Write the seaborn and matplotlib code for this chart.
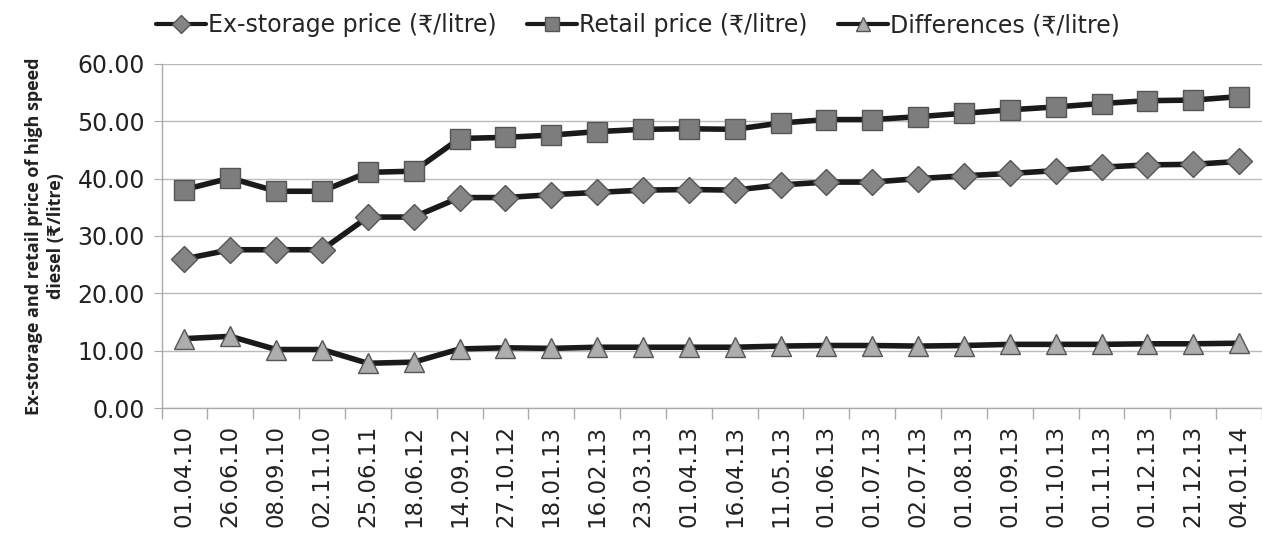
import numpy as np
import pandas as pd
import matplotlib
matplotlib.use("Agg")
import matplotlib.pyplot as plt
import seaborn as sns

dates = ['01.04.10', '26.06.10', '08.09.10', '02.11.10', '25.06.11', '18.06.12',
         '14.09.12', '27.10.12', '18.01.13', '16.02.13', '23.03.13', '01.04.13',
         '16.04.13', '11.05.13', '01.06.13', '01.07.13', '02.07.13', '01.08.13',
         '01.09.13', '01.10.13', '01.11.13', '01.12.13', '21.12.13', '04.01.14']
ex_storage = [26.0, 27.6, 27.6, 27.6, 33.3, 33.3, 36.7, 36.7, 37.2, 37.6, 38.0, 38.1,
              38.0, 38.9, 39.4, 39.4, 40.0, 40.5, 40.9, 41.4, 42.0, 42.4, 42.5, 43.0]
retail = [38.1, 40.1, 37.8, 37.8, 41.1, 41.3, 47.0, 47.2, 47.6, 48.2, 48.6, 48.7,
          48.6, 49.7, 50.3, 50.3, 50.8, 51.4, 52.0, 52.5, 53.1, 53.6, 53.7, 54.3]
differences = [12.1, 12.5, 10.2, 10.2, 7.8, 8.0, 10.3, 10.5, 10.4, 10.6, 10.6, 10.6,
               10.6, 10.8, 10.9, 10.9, 10.8, 10.9, 11.1, 11.1, 11.1, 11.2, 11.2, 11.3]
series_names = ['Ex-storage price (₹/litre)', 'Retail price (₹/litre)', 'Differences (₹/litre)']

sns.set_style("white")
plt.rcParams['font.family'] = ['DejaVu Sans']

df = pd.DataFrame({'date': dates, 'ex': ex_storage, 'retail': retail, 'diff': differences})

fig = plt.figure(figsize=(12.62, 5.33), dpi=100)
ax = fig.add_axes([0.128, 0.2345, 0.872, 0.6455])

styles = [
    ('ex', 'D', '#858585', 13),
    ('retail', 's', '#7d7d7d', 14),
    ('diff', '^', '#adadad', 14),
]
for (col, mk, fc, ms), name in zip(styles, series_names):
    sns.lineplot(data=df, x='date', y=col, ax=ax, sort=False, color='#1a1a1a',
                 linewidth=4, marker=mk, markersize=ms, markerfacecolor=fc,
                 markeredgecolor='#555555', markeredgewidth=1, label=name)

ax.set_xlim(-0.5, len(dates) - 0.5)
ax.set_ylim(0, 60)
ax.set_yticks(np.arange(0, 61, 10))
ax.set_yticklabels([f'{v:.2f}' for v in np.arange(0, 61, 10)], fontsize=17, color='#222222')
ax.set_xticks(range(len(dates)))
ax.set_xticklabels(dates, rotation=90, fontsize=16.5, color='#222222')
ax.set_xticks(np.arange(-0.5, len(dates), 1), minor=True)
ax.tick_params(axis='x', which='major', length=0, pad=12)
ax.tick_params(axis='x', which='minor', length=8, color='#aaaaaa', width=1, bottom=True)
ax.tick_params(axis='y', length=6, color='#aaaaaa', left=True, pad=6)
ax.grid(axis='y', color='#bbbbbb', linewidth=1)
for s in ['top', 'right']:
    ax.spines[s].set_visible(False)
for s in ['left', 'bottom']:
    ax.spines[s].set_color('#aaaaaa')
    ax.spines[s].set_linewidth(1)
ax.set_xlabel('')
ax.set_ylabel('Ex-storage and retail price of high speed\ndiesel (₹/litre)',
              fontsize=13, fontweight='bold', color='#222222', labelpad=9,
              family=['Open Sans', 'DejaVu Sans'], linespacing=1.25)

leg = ax.legend(loc='lower center', bbox_to_anchor=(0.433, 1.05), ncol=3, frameon=False,
                fontsize=17, handlelength=2.1, handletextpad=0.1, columnspacing=1.3,
                markerscale=0.7, borderaxespad=0)
for h in leg.get_lines():
    h.set_linewidth(3)

fig.savefig('out.png', dpi=100)
